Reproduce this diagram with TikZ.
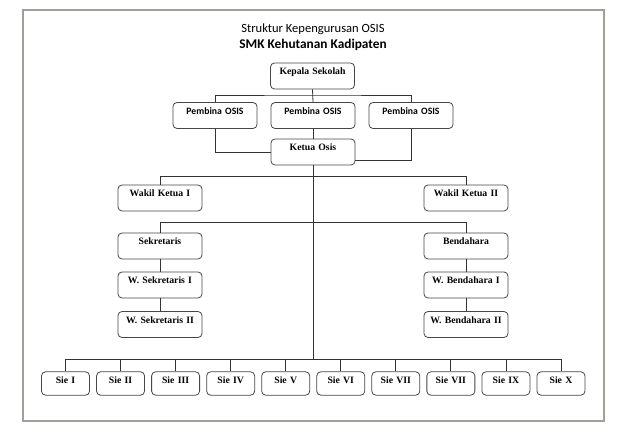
\documentclass[tikz,border=0pt]{standalone}
\usepackage{fontspec}
\setmainfont{Liberation Serif}
\newfontfamily\calibri{Carlito}
\usetikzlibrary{positioning,calc}
\definecolor{garisBox}{RGB}{70,70,70}
\definecolor{bingkai}{RGB}{160,160,155}

\begin{document}
\begin{tikzpicture}[
  x=0.75pt, y=-0.75pt,
  jabatan/.style={draw=garisBox, line width=0.6pt, rounded corners=3pt, fill=white,
                  align=center, text width=63pt, inner xsep=0pt, inner ysep=0pt,
                  text height=9pt, text depth=10.5pt, font=\fontsize{7.3}{8}\selectfont\bfseries},
  pembina/.style={jabatan, font=\fontsize{7.3}{8}\selectfont\calibri\bfseries},
  sie/.style={jabatan, text width=36pt, text height=8.5pt, text depth=9pt},
  garis/.style={draw=black!80, line width=0.6pt}
]
\useasboundingbox (0,0) rectangle (644,434);

% Bingkai
\draw[bingkai, line width=1.6pt] (23,10) rectangle (604,421);

% Judul
\node[font=\fontsize{9.4}{11}\selectfont\calibri] (judul1) at (313,29) {Struktur Kepengurusan OSIS};
\node[font=\fontsize{10}{12}\selectfont\calibri\bfseries] (judul2) at (313,45) {SMK Kehutanan Kadipaten};

% Baris 1-3: Kepala Sekolah, Pembina, Ketua
\node[jabatan] (kepala) at (312.5,76) {Kepala Sekolah};
\node[pembina] (pemb1) at (215,115.5) {Pembina OSIS};
\node[pembina] (pemb2) at (313,115.5) {Pembina OSIS};
\node[pembina] (pemb3) at (411,115.5) {Pembina OSIS};
\node[jabatan] (ketua) at (313,152) {Ketua Osis};

% Baris 4: Wakil Ketua
\node[jabatan] (wakil1) at (160,198) {Wakil Ketua I};
\node[jabatan] (wakil2) at (466,198) {Wakil Ketua II};

% Baris 5-7: Sekretaris dan Bendahara
\node[jabatan] (sek) at (160,246) {Sekretaris};
\node[jabatan] (wsek1) at (160,285) {W. Sekretaris I};
\node[jabatan] (wsek2) at (160,324.5) {W. Sekretaris II};
\node[jabatan] (bend) at (466,246) {Bendahara};
\node[jabatan] (wbend1) at (466,285) {W. Bendahara I};
\node[jabatan] (wbend2) at (466,324.5) {W. Bendahara II};

% Baris 8: Sie
\foreach \nama [count=\i from 0] in {I,II,III,IV,V,VI,VII,VII,IX,X}
  \node[sie] (sie\i) at (65.5+55.05*\i,383.5) {Sie \nama};

% Titik bantu
\coordinate (busPemb) at (0,95);
\coordinate (busWakil) at (0,176);
\coordinate (busSek) at (0,222);
\coordinate (busSie) at (0,359);

% Garis penghubung
\draw[garis] (pemb1.north) |- (busPemb -| kepala.south) -| (pemb3.north);
\draw[garis] (kepala.south) -- (pemb2.north);
\draw[garis] (pemb2.south) -- (ketua.north);
\draw[garis] (pemb1.south) |- (ketua.west);
\draw[garis] (pemb3.south) |- ([yshift=-6pt]ketua.east);
\draw[garis] (ketua.south) -- (busSie -| ketua.south);

\draw[garis] (wakil1.north) |- (busWakil -| wakil2.north) -- (wakil2.north);
\draw[garis] (sek.north) |- (busSek -| bend.north) -- (bend.north);

\draw[garis] (sek) -- (wsek1) -- (wsek2);
\draw[garis] (bend) -- (wbend1) -- (wbend2);

\draw[garis] (sie0.north) |- (busSie -| sie9.north) -- (sie9.north);
\foreach \i in {1,...,8}
  \draw[garis] (sie\i.north) -- (busSie -| sie\i.north);

\end{tikzpicture}
\end{document}
